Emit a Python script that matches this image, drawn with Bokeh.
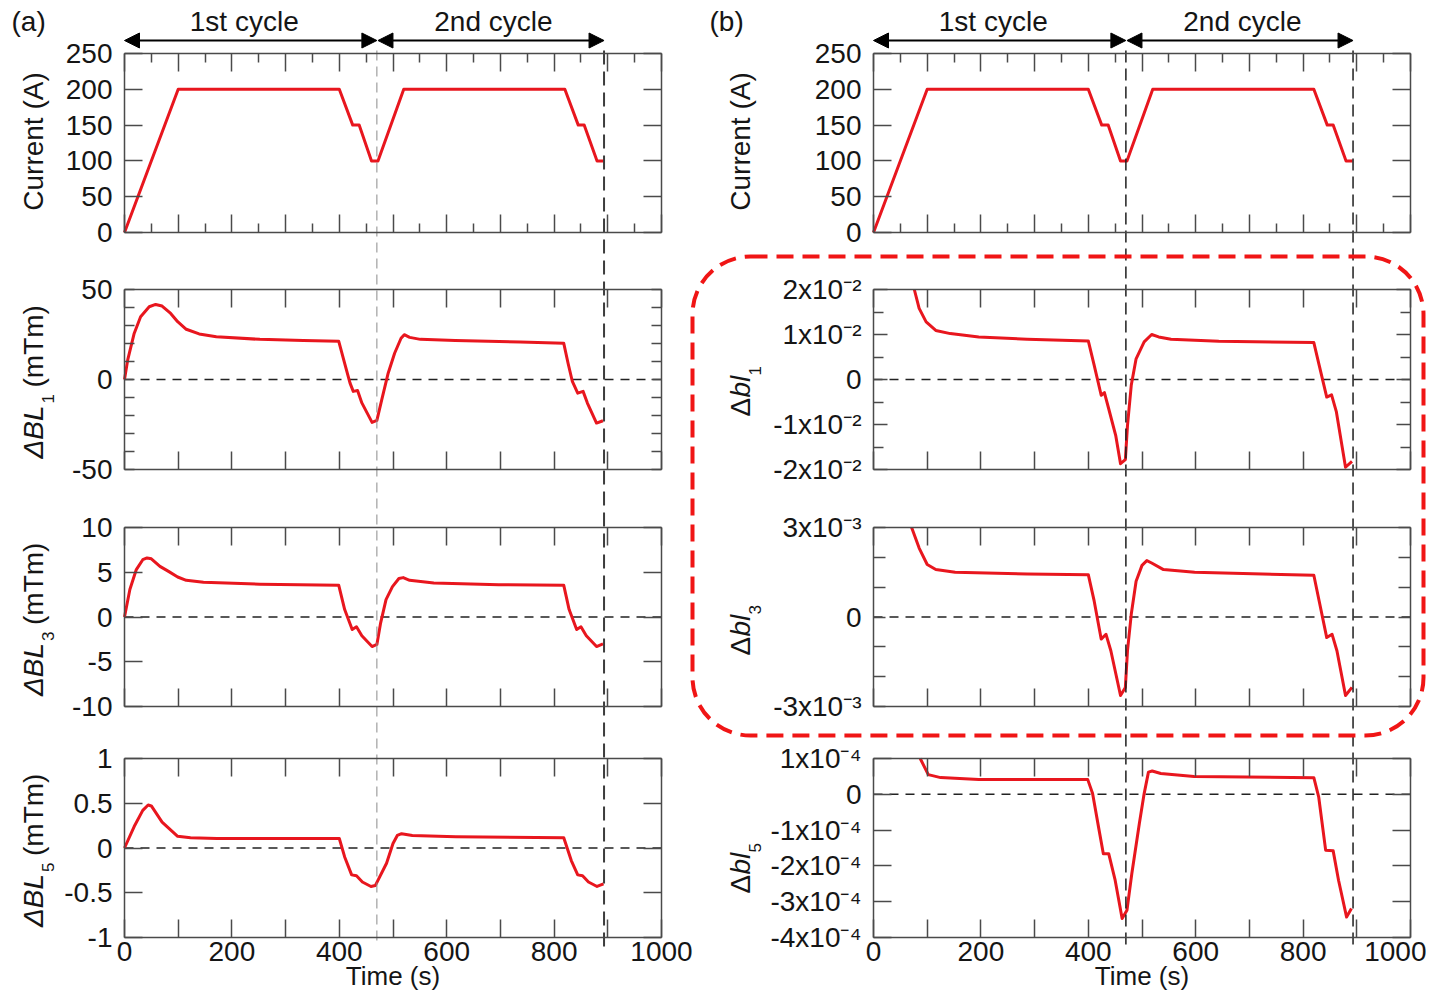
from math import pi
import numpy as np
from bokeh.plotting import figure
from bokeh.models import Range1d, LinearAxis, FixedTicker, Label, Arrow, NormalHead, BoxAnnotation
from bokeh.embed import file_html
from bokeh.resources import INLINE

# ------------------------------------------------------------------ data
t_current = [0, 100, 400, 425, 437, 460, 472, 520, 820, 845, 856, 880, 892]
current_A = [0, 200, 200, 150, 150, 100, 100, 200, 200, 150, 150, 100, 100]

t_dBL1 = [0, 6, 18, 30, 46, 58, 70, 86, 99, 115, 139, 171, 252, 333, 399, 410, 420, 426, 434, 442,
          461, 470, 479, 491, 503, 515, 521, 531, 551, 616, 737, 818, 826, 834, 844, 854, 862, 879, 891]
dBL1 = [0, 10.9, 25.6, 34.9, 40.4, 41.7, 40.8, 36.7, 32.1, 27.9, 25.3, 23.8, 22.3, 21.6, 21.2, 9.0,
        -2.0, -6.6, -6.1, -13.0, -23.8, -22.7, -11.3, 3.5, 14.6, 22.9, 24.9, 23.4, 22.3, 21.6, 20.8,
        20.1, 9.0, -1.1, -7.6, -6.6, -13.1, -24.2, -22.9]

t_dBL3 = [0, 10, 22, 34, 42, 50, 66, 82, 99, 115, 147, 252, 399, 410, 424, 432, 442, 461, 470, 477,
          487, 499, 511, 519, 531, 576, 697, 818, 828, 842, 850, 860, 879, 891]
dBL3 = [0, 3.07, 5.3, 6.4, 6.6, 6.5, 5.66, 5.1, 4.47, 4.1, 3.88, 3.66, 3.54, 0.83, -1.4, -1.1, -2.1,
        -3.3, -3.06, -0.65, 1.95, 3.4, 4.3, 4.4, 4.1, 3.8, 3.6, 3.54, 0.83, -1.4, -1.1, -2.1, -3.3, -3.0]

t_dBL5 = [0, 18, 34, 44, 50, 70, 99, 123, 172, 400, 410, 423, 432, 443, 459, 467, 488, 500, 508, 516,
          536, 617, 818, 832, 844, 853, 864, 880, 892]
dBL5 = [0, 0.24, 0.42, 0.48, 0.47, 0.29, 0.13, 0.114, 0.106, 0.106, -0.10, -0.30, -0.31, -0.38, -0.43,
        -0.42, -0.17, 0.05, 0.14, 0.16, 0.14, 0.125, 0.114, -0.14, -0.30, -0.31, -0.38, -0.43, -0.40]

t_dbl1 = [76, 85, 98, 116, 143, 196, 286, 400, 411, 424, 430, 438, 451, 460, 469, 473, 480, 489, 504,
          518, 531, 554, 643, 820, 830, 844, 853, 862, 879, 891]
dbl1 = np.array([2.0, 1.58, 1.28, 1.09, 1.02, 0.946, 0.894, 0.857, 0.315, -0.35, -0.29, -0.65, -1.24,
                 -1.87, -1.78, -1.02, -0.13, 0.46, 0.835, 1.0, 0.946, 0.894, 0.85, 0.82, 0.315, -0.39,
                 -0.34, -0.72, -1.95, -1.82]) * 1e-2

t_dbl3 = [71, 85, 100, 116, 152, 286, 400, 411, 424, 433, 442, 460, 469, 473, 480, 489, 500, 509, 518,
          540, 598, 820, 830, 844, 854, 863, 879, 891]
dbl3 = np.array([3.0, 2.31, 1.76, 1.59, 1.5, 1.44, 1.42, 0.53, -0.74, -0.58, -1.13, -2.63, -2.36, -1.13,
                 0.09, 1.2, 1.73, 1.89, 1.81, 1.59, 1.5, 1.4, 0.53, -0.69, -0.58, -1.13, -2.63, -2.36]) * 1e-3

t_dbl5 = [87, 102, 125, 196, 399, 408, 419, 428, 438, 450, 463, 472, 481, 495, 504, 512, 519, 535, 597,
          820, 829, 842, 856, 866, 881, 890]
dbl5 = np.array([1.0, 0.55, 0.466, 0.41, 0.41, 0.02, -0.91, -1.66, -1.66, -2.4, -3.47, -3.24, -2.22,
                 -0.82, 0.02, 0.62, 0.65, 0.58, 0.5, 0.465, -0.07, -1.56, -1.58, -2.4, -3.43, -3.19]) * 1e-4

cycle_bounds = [0, 470, 893]
cycle_names = ["1st cycle", "2nd cycle"]
cycle_label_t = [223, 687]

x_ticks = [0, 100, 200, 300, 400, 500, 600, 700, 800, 900, 1000]
x_minor = [50, 150, 250, 350, 450, 550, 650, 750, 850, 950]
x_labels = {0: "0", 200: "200", 400: "400", 600: "600", 800: "800", 1000: "1000"}

cur_ticks = [0, 50, 100, 150, 200, 250]
bl1_ticks = [-50, 0, 50]
bl1_minor = [-40, -30, -20, -10, 10, 20, 30, 40]
bl3_ticks = [-10, -5, 0, 5, 10]
bl5_ticks = [-1, -0.5, 0, 0.5, 1]
bl5_labels = ["-1", "-0.5", "0", "0.5", "1"]
r1_ticks = [-0.02, -0.01, 0, 0.01, 0.02]
r1_minor = [-0.015, -0.005, 0.005, 0.015]
r1_labels = ["-2x10\u207b\u00b2", "-1x10\u207b\u00b2", "0", "1x10\u207b\u00b2", "2x10\u207b\u00b2"]
r3_ticks = [-0.003, 0, 0.003]
r3_minor = [-0.002, -0.001, 0.001, 0.002]
r3_labels = ["-3x10\u207b\u00b3", "0", "3x10\u207b\u00b3"]
r5_ticks = [-4e-4, -3e-4, -2e-4, -1e-4, 0, 1e-4]
r5_labels = ["-4x10\u207b\u2074", "-3x10\u207b\u2074", "-2x10\u207b\u2074", "-1x10\u207b\u2074", "0",
             "1x10\u207b\u2074"]

# ------------------------------------------------------------------ layout (pixels)
W, H = 1426, 990
COLS = {"L": (124, 661), "R": (873, 1410)}
ROWS = [(53, 232), (289, 469), (527, 706), (758, 937)]
FONT = "Liberation Sans"
RED = "#e8161e"
AX = "#4a4a4a"
TXT = "#151515"

p = figure(width=W, height=H, x_range=Range1d(0, W), y_range=Range1d(H, 0),
           output_backend="svg", toolbar_location=None, x_axis_type=None, y_axis_type=None,
           min_border=0, outline_line_color=None, title=None)
p.background_fill_color = "white"
p.border_fill_color = "white"


def xr(col):
    x0, x1 = COLS[col]
    s = 1000.0 / (x1 - x0)
    return Range1d(0 - x0 * s, (W - x0) * s)


def yr(row, lo, hi):
    y0, y1 = ROWS[row]
    s = (hi - lo) / (y1 - y0)
    return Range1d(lo - (H - y1) * s, hi + y0 * s)


p.extra_x_ranges = {"tL": xr("L"), "tR": xr("R")}

panels = [
    ("L", 0, t_current, current_A, (0, 250), cur_ticks, [], [str(v) for v in cur_ticks], 18, 0, False),
    ("L", 1, t_dBL1, dBL1, (-50, 50), bl1_ticks, bl1_minor, ["-50", "0", "50"], 10, 10, True),
    ("L", 2, t_dBL3, dBL3, (-10, 10), bl3_ticks, [], [str(v) for v in bl3_ticks], 18, 0, True),
    ("L", 3, t_dBL5, dBL5, (-1, 1), bl5_ticks, [], bl5_labels, 18, 0, True),
    ("R", 0, t_current, current_A, (0, 250), cur_ticks, [], [str(v) for v in cur_ticks], 18, 0, False),
    ("R", 1, t_dbl1, dbl1, (-0.02, 0.02), r1_ticks, r1_minor, r1_labels, 14, 10, True),
    ("R", 2, t_dbl3, dbl3, (-0.003, 0.003), r3_ticks, r3_minor, r3_labels, 12, 12, True),
    ("R", 3, t_dbl5, dbl5, (-4e-4, 1e-4), r5_ticks, [], r5_labels, 18, 0, True),
]

p.extra_y_ranges = {f"{c}{r}": yr(r, lo, hi) for c, r, _t, _v, (lo, hi), *_ in panels}


def style_axis(ax, tick_len, minor_len):
    ax.axis_line_color = AX
    ax.axis_line_width = 1.5
    ax.major_tick_line_color = AX
    ax.major_tick_line_width = 1.5
    ax.minor_tick_line_color = AX
    ax.minor_tick_line_width = 1.5
    ax.major_tick_in = tick_len
    ax.major_tick_out = 0
    ax.minor_tick_in = minor_len
    ax.minor_tick_out = 0
    ax.major_label_text_font = FONT
    ax.major_label_text_font_size = "28px"
    ax.major_label_text_color = TXT
    ax.axis_label = None


for col, row, t, v, (lo, hi), yt, ym, ylab, ylen, ymlen, zero in panels:
    xn, yn = "t" + col, f"{col}{row}"
    ax = LinearAxis(x_range_name=xn, y_range_name=yn, fixed_location=0, bounds=(lo, hi),
                    ticker=FixedTicker(ticks=yt, minor_ticks=ym),
                    major_label_overrides={k: s for k, s in zip(yt, ylab)})
    style_axis(ax, ylen, ymlen)
    ax.major_label_standoff = 12
    p.add_layout(ax, "left")
    ax = LinearAxis(x_range_name=xn, y_range_name=yn, fixed_location=1000, bounds=(lo, hi),
                    ticker=FixedTicker(ticks=yt, minor_ticks=ym),
                    major_label_overrides={k: "" for k in yt})
    style_axis(ax, ylen, ymlen)
    p.add_layout(ax, "right")
    xm = x_minor if row == 0 else []
    ax = LinearAxis(x_range_name=xn, y_range_name=yn, fixed_location=hi, bounds=(0, 1000),
                    ticker=FixedTicker(ticks=x_ticks, minor_ticks=xm),
                    major_label_overrides={k: "" for k in x_ticks})
    style_axis(ax, 18, 9)
    p.add_layout(ax, "above")
    labs = {k: (x_labels.get(k, "") if row == 3 else "") for k in x_ticks}
    ax = LinearAxis(x_range_name=xn, y_range_name=yn, fixed_location=lo, bounds=(0, 1000),
                    ticker=FixedTicker(ticks=x_ticks, minor_ticks=xm),
                    major_label_overrides=labs)
    style_axis(ax, 18, 9)
    ax.major_label_standoff = 4
    p.add_layout(ax, "below")
    if zero:
        p.line([0, 1000], [0, 0], x_range_name=xn, y_range_name=yn,
               line_color="#222222", line_width=1.5, line_dash="9 7")
    p.line(t, v, x_range_name=xn, y_range_name=yn, line_color=RED, line_width=3,
           line_join="round")

# vertical dashed cycle boundaries
vy = [50, 946]
p.line([cycle_bounds[1]] * 2, vy, x_range_name="tL", line_color="#8a8a8a", line_width=1,
       line_dash="10 6")
p.line([cycle_bounds[2]] * 2, vy, x_range_name="tL", line_color="#3c3c3c", line_width=2,
       line_dash="14 7")
for tb in cycle_bounds[1:]:
    p.line([tb] * 2, vy, x_range_name="tR", line_color="#1e1e1e", line_width=1.5, line_dash="12 6")


def lab(text, px, py, size="28px", style="normal", angle=0.0, align="left", x_range_name="default"):
    p.add_layout(Label(x=px, y=py, text=text, text_font=FONT, text_font_size=size,
                       text_font_style=style, angle=angle, text_align=align,
                       text_baseline="middle", text_color=TXT, x_range_name=x_range_name))


# cycle arrows and labels
for xn in ("tL", "tR"):
    for i in range(2):
        a0 = cycle_bounds[i] + (2 if i else 0)
        p.add_layout(Arrow(x_start=a0, x_end=cycle_bounds[i + 1], y_start=40, y_end=40,
                           x_range_name=xn, line_color="black", line_width=2,
                           start=NormalHead(size=15, fill_color="black", line_color="black"),
                           end=NormalHead(size=15, fill_color="black", line_color="black")))
        lab(cycle_names[i], cycle_label_t[i], 21, align="center", x_range_name=xn)

lab("(a)", 11, 21)
lab("(b)", 709, 21)

# y-axis titles (rotated, read bottom to top)
V = pi / 2
lab("Current (A)", 33, 141, angle=V, align="center")
lab("Current (A)", 740, 141, angle=V, align="center")
for row, sub in ((1, "1"), (2, "3"), (3, "5")):
    cy = (ROWS[row][0] + ROWS[row][1]) / 2
    y0 = cy + 79
    lab("\u0394BL", 33, y0, style="italic", angle=V)
    lab(sub, 47, y0 - 55, size="17px", angle=V)
    lab("(mTm)", 33, y0 - 71, angle=V)
r_centers = {1: 391, 2: 630, 3: 868}
for row, sub in ((1, "1"), (2, "3"), (3, "5")):
    y0 = r_centers[row] + 25
    lab("\u0394", 740, y0, angle=V)
    lab("bl", 740, y0 - 19, style="italic", angle=V)
    lab(sub, 754, y0 - 41, size="17px", angle=V)

# x-axis titles
lab("Time (s)", (COLS["L"][0] + COLS["L"][1]) / 2, 975, size="26px", align="center")
lab("Time (s)", (COLS["R"][0] + COLS["R"][1]) / 2, 975, size="26px", align="center")

# red dashed rounded frame
p.add_layout(BoxAnnotation(left=692, right=1423, top=256, bottom=735,
                           fill_alpha=0, line_color="#f01515", line_alpha=1.0, line_width=4,
                           line_dash="17 9", border_radius=58))

open("out.html", "w").write(file_html(p, INLINE))
